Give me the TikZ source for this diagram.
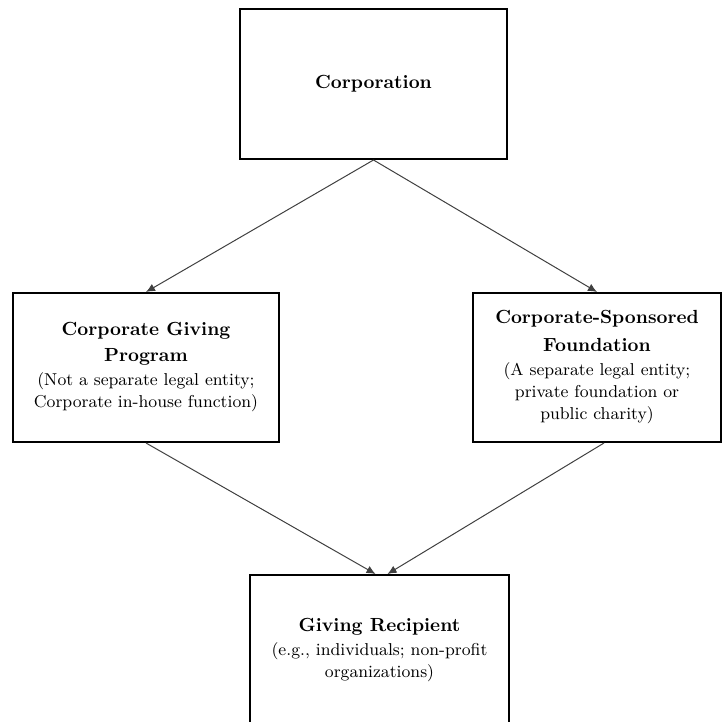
\documentclass[tikz,border=0pt]{standalone}
\usepackage{amsmath}
\usepackage{tikz}
\usetikzlibrary{arrows.meta}

\tikzset{
  box/.style={draw, line width=1pt, align=center, inner sep=2pt, font=\fontsize{8.6}{11}\selectfont},
  link/.style={-{Latex[length=4.5pt,width=4pt]}, line width=0.5pt, draw=black!75},
}
\newcommand{\headfont}{\fontsize{9.5}{12.5}\selectfont\bfseries}

\begin{document}
\begin{tikzpicture}[x=0.5pt,y=-0.5pt]
\useasboundingbox (0,0) rectangle (722,722);
\node[box, minimum width=133.5pt, minimum height=75pt] (corp) at (373.5,84) {\headfont Corporation};
\node[box, minimum width=133pt, minimum height=74.5pt] (prog) at (146,367.5) {\headfont Corporate Giving\\[2pt]\headfont Program\\[1pt](Not a separate legal entity;\\Corporate in-house function)};
\node[box, minimum width=124pt, minimum height=74.5pt] (found) at (597,367.5) {\headfont Corporate-Sponsored\\[3pt]\headfont Foundation\\[1pt](A separate legal entity;\\private foundation or\\public charity)};
\node[box, minimum width=129.5pt, minimum height=75pt] (recip) at (379.5,650) {\headfont Giving Recipient\\[1pt](e.g., individuals; non-profit\\organizations)};

\draw[link] (corp.south) -- (prog.north);
\draw[link] (corp.south) -- (found.north);
\draw[link] (prog.south) -- ([xshift=-2pt]recip.north);
\draw[link] ([xshift=3.5pt]found.south) -- ([xshift=4pt]recip.north);
\end{tikzpicture}
\end{document}
